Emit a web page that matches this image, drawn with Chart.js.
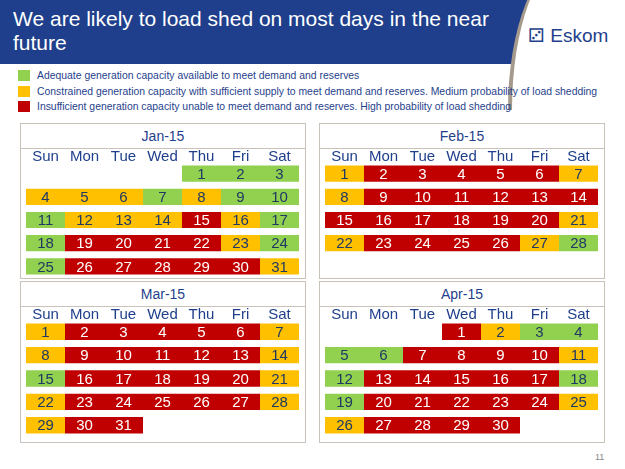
<!DOCTYPE html>
<html>
<head>
<meta charset="utf-8">
<script src="https://cdn.jsdelivr.net/npm/chart.js@4.4.0/dist/chart.umd.min.js"></script>
<style>
  body { margin: 0; width: 625px; height: 469px; position: relative; background: #fff; font-family: "Liberation Sans", Arial, sans-serif; overflow: hidden; }
  #band { position: absolute; left: 0; top: 0; width: 625px; height: 64px; background: #1f3f8c; }
  #band h1 { position: absolute; left: 13px; top: 7px; margin: 0; font-weight: normal; font-size: 21px; line-height: 24px; color: #fff; width: 500px; }
  #logoArea { position: absolute; left: 508px; top: -40px; width: 200px; height: 150px; background: #fff; border-left: 4px solid #a59a8c; border-radius: 60px 0 0 0 / 150px 0 0 0; }
  #logo { position: absolute; left: 528px; top: 24px; font-size: 19px; color: #1f3f8c; }
  .leg { position: absolute; left: 18px; font-size: 10.4px; color: #1f3f8c; white-space: nowrap; }
  .leg span { display: inline-block; width: 12px; height: 11px; vertical-align: -2px; margin-right: 7px; }
  .panel { position: absolute; border: 1px solid #c9c2ba; box-sizing: border-box; }
  .panel .hd { height: 24px; line-height: 24px; text-align: center; font-size: 14px; color: #1f3f8c; border-bottom: 1px solid #c9c2ba; }
  #pg { position: absolute; left: 595px; top: 452px; font-size: 9px; color: #888; }
</style>
</head>
<body>
<div id="band"><h1>We are likely to load shed on most days in the near future</h1></div>
<div id="logoArea"></div>
<div id="logo">&#9858; Eskom</div>
<div class="leg" style="top:70px"><span style="background:#92d050"></span>Adequate generation capacity available to meet demand and reserves</div>
<div class="leg" style="top:86px"><span style="background:#ffc000"></span>Constrained generation capacity with sufficient supply to meet demand and reserves. Medium probability of load shedding</div>
<div class="leg" style="top:101px"><span style="background:#c00000"></span>Insufficient generation capacity unable to meet demand and reserves. High probability of load shedding</div>
<div id="pg">11</div>
<script>
// G = ausreichend, Y = knapp, R = unzureichend
const monate = [
  { name: "Jan-15", start: 4, status: "GGGYYYGYGGGYYYRYGGRRRRYGGRRRRRY", x: 20, y: 123, w: 286, h: 156 },
  { name: "Feb-15", start: 0, status: "YRRRRRYYRRRRRRRRRRRRYYRRRRYG", x: 319, y: 123, w: 286, h: 156 },
  { name: "Mar-15", start: 0, status: "YRRRRRYYRRRRRYGRRRRRYYRRRRRYYRR", x: 20, y: 281, w: 286, h: 162 },
  { name: "Apr-15", start: 3, status: "RYGGGGRRRRYGRRRRRGGRRRRRYYRRRR", x: 319, y: 281, w: 286, h: 162 }
];
const farben = { G: "#92d050", Y: "#ffc000", R: "#c00000" };
const tage = ["Sun", "Mon", "Tue", "Wed", "Thu", "Fri", "Sat"];
const wochen = ["w1", "w2", "w3", "w4", "w5"];

const zahlenPlugin = {
  id: "zahlen",
  afterDatasetsDraw(chart) {
    const ctx = chart.ctx;
    ctx.save();
    ctx.font = "15px 'Liberation Sans', Arial";
    ctx.textAlign = "center";
    ctx.textBaseline = "middle";
    chart.data.datasets.forEach((ds, i) => {
      chart.getDatasetMeta(i).data.forEach((bar, j) => {
        const p = bar.getProps(["x", "base", "y"], true);
        ctx.fillStyle = ds.key === "R" ? "#ffffff" : "#1f3864";
        ctx.fillText(ds.data[j].tag, (p.x + p.base) / 2, p.y + 1);
      });
    });
    ctx.restore();
  }
};

monate.forEach((m, idx) => {
  const panel = document.createElement("div");
  panel.className = "panel";
  Object.assign(panel.style, { left: m.x + "px", top: m.y + "px", width: m.w + "px", height: m.h + "px" });
  panel.innerHTML = '<div class="hd">' + m.name + '</div>';
  const box = document.createElement("div");
  box.style.width = (m.w - 2) + "px";
  box.style.height = (m.h - 27) + "px";
  const canvas = document.createElement("canvas");
  box.appendChild(canvas);
  panel.appendChild(box);
  document.body.appendChild(panel);

  const datasets = ["G", "Y", "R"].map(k => ({ key: k, data: [], backgroundColor: farben[k] }));
  for (let d = 0; d < m.status.length; d++) {
    const pos = m.start + d;
    const col = pos % 7;
    const row = Math.floor(pos / 7);
    datasets.find(ds => ds.key === m.status[d]).data.push({ y: wochen[row], x: [col, col + 1], tag: String(d + 1) });
  }

  new Chart(canvas, {
    type: "bar",
    data: { labels: wochen, datasets: datasets },
    options: {
      indexAxis: "y",
      responsive: true,
      maintainAspectRatio: false,
      animation: false,
      grouped: false,
      categoryPercentage: 1,
      barPercentage: 0.7,
      layout: { padding: { left: 5, right: 6, top: 0, bottom: m.h - 27 - 130 } },
      plugins: { legend: { display: false }, tooltip: { enabled: false } },
      scales: {
        x: {
          type: "linear", position: "top", min: 0, max: 7,
          grid: { display: false, drawTicks: false }, border: { display: false },
          afterBuildTicks: s => { s.ticks = tage.map((t, i) => ({ value: i + 0.5 })); },
          afterFit: s => { s.height = 13; },
          ticks: { padding: -4, color: "#1f3f8c", font: { size: 15, family: "'Liberation Sans', Arial" }, callback: (v) => tage[Math.floor(v)] }
        },
        y: { display: false }
      }
    },
    plugins: [zahlenPlugin]
  });
});
</script>
</body>
</html>
